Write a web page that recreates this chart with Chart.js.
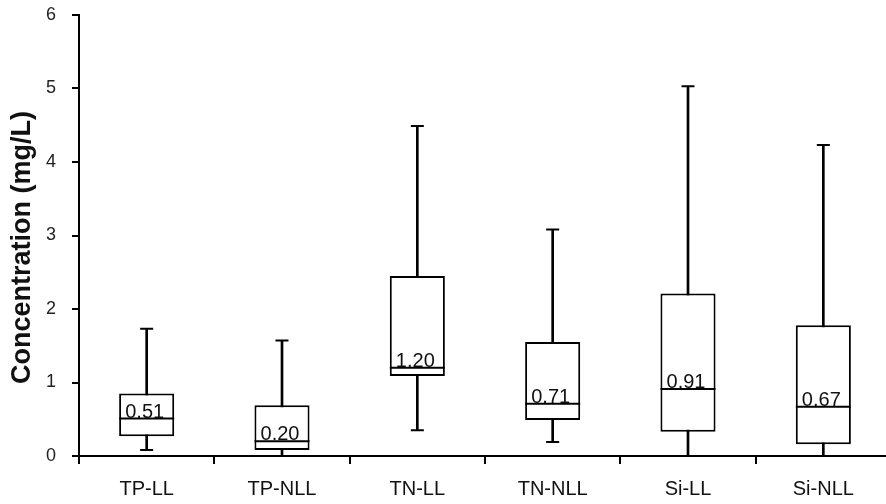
<!DOCTYPE html>
<html>
<head>
<meta charset="utf-8">
<script src="https://cdn.jsdelivr.net/npm/chart.js@4/dist/chart.umd.min.js"></script>
<style>
    html, body { margin: 0; padding: 0; background: #fff; overflow: hidden; }
    canvas { display: block; }
</style>
</head>
<body>
<canvas id="boxChart" width="891" height="504"></canvas>
<script>
const categories = ['TP-LL', 'TP-NLL', 'TN-LL', 'TN-NLL', 'Si-LL', 'Si-NLL'];
const mins = [0.08, 0.0, 0.35, 0.19, 0.0, 0.0];
const q1 = [0.27, 0.08, 1.09, 0.49, 0.33, 0.16];
const medians = [0.51, 0.20, 1.20, 0.71, 0.91, 0.67];
const q3 = [0.85, 0.69, 2.45, 1.55, 2.21, 1.78];
const maxs = [1.73, 1.57, 4.49, 3.08, 5.03, 4.23];
const yTicks = [0, 1, 2, 3, 4, 5, 6];
const yTitle = 'Concentration (mg/L)';

const ink = '#000';
const fontFamily = '"Liberation Sans", Arial, sans-serif';

// writes the median value just above each median line
const medianLabels = {
    id: 'medianLabels',
    afterDatasetsDraw(chart) {
        const meta = chart.getDatasetMeta(0);
        const ctx = chart.ctx;
        ctx.save();
        ctx.font = `20px ${fontFamily}`;
        ctx.fillStyle = '#111';
        ctx.textAlign = 'center';
        ctx.textBaseline = 'alphabetic';
        meta.data.forEach((pt, i) => {
            ctx.fillText(medians[i].toFixed(2), pt.x - 2, pt.y - 1);
        });
        ctx.restore();
    },
};

// rotated axis title, sits a little below the middle of the axis like the original
const axisTitle = {
    id: 'axisTitle',
    afterDraw(chart) {
        const { ctx, chartArea } = chart;
        ctx.save();
        ctx.translate(23, (chartArea.top + chartArea.bottom) / 2 + 12);
        ctx.rotate(-Math.PI / 2);
        ctx.font = `bold 27px ${fontFamily}`;
        ctx.fillStyle = '#111';
        ctx.textAlign = 'center';
        ctx.textBaseline = 'middle';
        ctx.fillText(yTitle, 0, 0);
        ctx.restore();
    },
};

const capStyle = (values, radius) => ({
    type: 'line',
    data: values,
    showLine: false,
    pointStyle: 'line',
    pointRadius: radius,
    pointHoverRadius: radius,
    pointBorderWidth: 2,
    pointBorderColor: ink,
    pointBackgroundColor: ink,
    borderColor: ink,
});

new Chart(document.getElementById('boxChart'), {
    type: 'bar',
    data: {
        labels: categories,
        datasets: [
            { ...capStyle(medians, 27.5), order: 0 },
            { ...capStyle(maxs, 6.5), order: 1 },
            { ...capStyle(mins, 6.5), order: 1 },
            {
                data: categories.map((_, i) => [q1[i], q3[i]]),
                backgroundColor: '#fff',
                borderColor: ink,
                borderWidth: 2,
                borderSkipped: false,
                barPercentage: 0.407,
                categoryPercentage: 1,
                grouped: false,
                order: 2,
            },
            {
                data: categories.map((_, i) => [mins[i], maxs[i]]),
                backgroundColor: ink,
                barThickness: 2,
                grouped: false,
                order: 3,
            },
        ],
    },
    options: {
        responsive: false,
        animation: false,
        events: [],
        layout: { autoPadding: false, padding: { top: 15, right: 0, bottom: 0, left: 0 } },
        plugins: { legend: { display: false }, tooltip: { enabled: false } },
        scales: {
            x: {
                offset: true,
                grid: { offset: true, drawOnChartArea: false, tickLength: 8, color: ink, lineWidth: 2 },
                border: { color: ink, width: 2 },
                ticks: { font: { family: fontFamily, size: 20 }, color: '#111', padding: 13 },
                afterFit: (scale) => {
                    scale.height = 48;
                    scale.paddingLeft = 0;
                    scale.paddingRight = 0;
                },
            },
            y: {
                min: yTicks[0],
                max: yTicks[yTicks.length - 1],
                afterBuildTicks: (scale) => { scale.ticks = yTicks.map((v) => ({ value: v })); },
                grid: { drawOnChartArea: false, tickLength: 7, color: ink, lineWidth: 2 },
                border: { color: ink, width: 2 },
                ticks: { font: { family: fontFamily, size: 18 }, color: '#222', padding: 16 },
                afterFit: (scale) => {
                    scale.width = 79;
                    scale.paddingTop = 0;
                    scale.paddingBottom = 0;
                },
            },
        },
    },
    plugins: [medianLabels, axisTitle],
});
</script>
</body>
</html>
